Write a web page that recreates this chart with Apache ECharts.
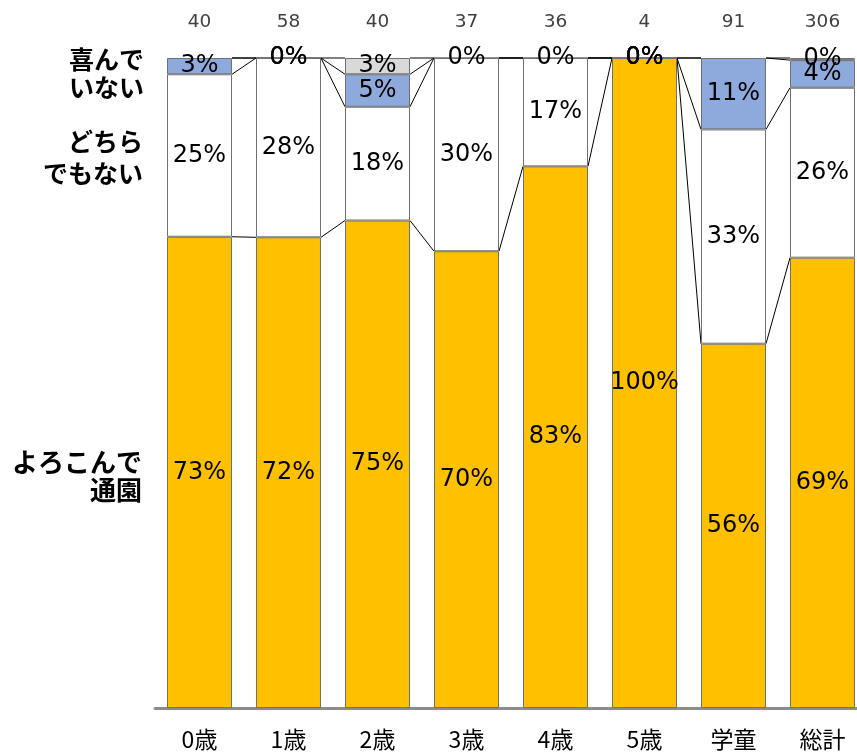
<!DOCTYPE html>
<html>
<head>
<meta charset="utf-8">
<script src="https://cdn.jsdelivr.net/npm/echarts@6/dist/echarts.min.js"></script>
<style>html,body{margin:0;padding:0;background:#fff}#c{width:857px;height:753px}</style>
</head>
<body>
<div id="c"></div>
<script>
// Categories
var categories = ['0歳', '1歳', '2歳', '3歳', '4歳', '5歳', '学童', '総計'];
// Response counts per category (persons)
var gladCounts    = [29, 42, 30, 26, 30, 4, 51, 212]; // よろこんで通園
var neutralCounts = [10, 16, 7, 11, 6, 0, 30, 80];    // どちらでもない
var unhappyCounts = [1, 0, 2, 0, 0, 0, 10, 13];       // 喜んでいない
var otherCounts   = [null, 0, 1, null, null, 0, null, 1]; // 無回答
// Series names
var seriesNames = ['よろこんで通園', 'どちらでもない', '喜んでいない', '無回答'];

var countSets = [gladCounts, neutralCounts, unhappyCounts, otherCounts];
var totals = categories.map(function (c, i) {
  return countSets.reduce(function (s, arr) { return s + (arr[i] || 0); }, 0);
});
var pctSets = countSets.map(function (arr) {
  return arr.map(function (v, i) { return v === null ? null : v / totals[i] * 100; });
});
// cumulative tops per series per category
var cumTops = pctSets.map(function (arr, s) {
  return categories.map(function (c, i) {
    var sum = 0;
    for (var k = 0; k <= s; k++) sum += (pctSets[k][i] || 0);
    return sum;
  });
});

var colors = ['#FFC000', '#FFFFFF', '#8EA9DB', '#D9D9D9'];
var labelStyle = {
  show: true, position: 'inside', color: '#000', fontSize: 24,
  fontFamily: 'DejaVu Sans',
  formatter: function (p) { return Math.round(p.value) + '%'; }
};

var series = pctSets.map(function (arr, s) {
  return {
    name: seriesNames[s], type: 'bar', stack: 'all', barWidth: '73%',
    data: arr,
    itemStyle: { color: colors[s], borderColor: '#707070', borderWidth: 1 },
    label: labelStyle,
    z: 2
  };
});

series.push({
  type: 'custom', silent: true, clip: false, z: 1,
  data: categories.slice(0, -1).map(function (c, i) { return [i, 0]; }),
  renderItem: function (params, api) {
    var i = api.value(0);
    var bw = api.size([1, 0])[0] * 0.73;
    var children = [];
    for (var s = 0; s < cumTops.length; s++) {
      var a = api.coord([i, cumTops[s][i]]);
      var b = api.coord([i + 1, cumTops[s][i + 1]]);
      children.push({
        type: 'line',
        shape: { x1: a[0] + bw / 2, y1: a[1], x2: b[0] - bw / 2, y2: b[1] },
        style: { stroke: '#000', lineWidth: 1 }
      });
    }
    return { type: 'group', children: children };
  }
});

var chart = echarts.init(document.getElementById('c'));
chart.setOption({
  animation: false,
  grid: { left: 155, top: 58, width: 712, height: 650, outerBoundsMode: 'none', containLabel: false },
  xAxis: [{
    type: 'category', data: categories, position: 'bottom',
    axisLine: { lineStyle: { color: '#8C8C8C', width: 3 } },
    axisTick: { show: false },
    axisLabel: { color: '#000', fontSize: 23, fontFamily: 'Noto Sans CJK JP', margin: 20 }
  }, {
    type: 'category', data: totals.map(String), position: 'top',
    axisLine: { show: false }, axisTick: { show: false },
    axisLabel: { color: '#404040', fontSize: 18.5, fontFamily: 'DejaVu Sans', margin: 26 }
  }],
  yAxis: { type: 'value', min: 0, max: 100, show: false },
  series: series,
  graphic: [
    { type: 'text', x: 144, y: 73, style: { text: '喜んで\nいない', textAlign: 'right', textVerticalAlign: 'middle', font: 'bold 25px "Noto Sans CJK JP"', lineHeight: 28, fill: '#000' } },
    { type: 'text', x: 143, y: 157, style: { text: 'どちら\nでもない', textAlign: 'right', textVerticalAlign: 'middle', font: 'bold 25px "Noto Sans CJK JP"', lineHeight: 32, fill: '#000' } },
    { type: 'text', x: 142, y: 476, style: { text: 'よろこんで\n通園', textAlign: 'right', textVerticalAlign: 'middle', font: 'bold 26px "Noto Sans CJK JP"', lineHeight: 28, fill: '#000' } }
  ]
});
</script>
</body>
</html>
